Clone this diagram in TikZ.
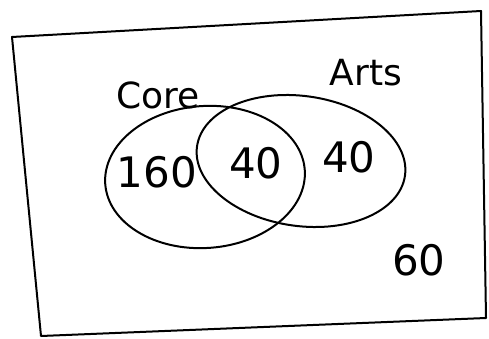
\documentclass[tikz,border=0pt]{standalone}
\usepackage{fontspec}
\setmainfont{DejaVu Sans}
\begin{document}
\begin{tikzpicture}[x=1pt,y=-1pt,
  pen/.style={line width=2pt,black,line cap=round,line join=round},
  lbl/.style={font=\fontsize{36}{36}\selectfont, inner sep=0pt},
  num/.style={font=\fontsize{42}{42}\selectfont, inner sep=0pt}]
\useasboundingbox (0,0) rectangle (489,339);
% frame
\coordinate (tl) at (12,37);
\coordinate (tr) at (481,11);
\coordinate (br) at (486,318);
\coordinate (bl) at (41,336);
\draw[pen] (tl) -- (tr) -- (br) -- (bl) -- cycle;
% sets
\draw[pen] (205,177) ellipse [x radius=100, y radius=71, rotate=4];
\draw[pen] (301,161) ellipse [x radius=105, y radius=65, rotate=-8];
% labels
\node[lbl] (core) at (158,95) {Core};
\node[lbl] (arts) at (366,73) {Arts};
\node[num] (n1) at (157,172) {160};
\node[num] (n2) at (256,163) {40};
\node[num] (n3) at (349,157) {40};
\node[num] (n4) at (419,260) {60};
\end{tikzpicture}
\end{document}
